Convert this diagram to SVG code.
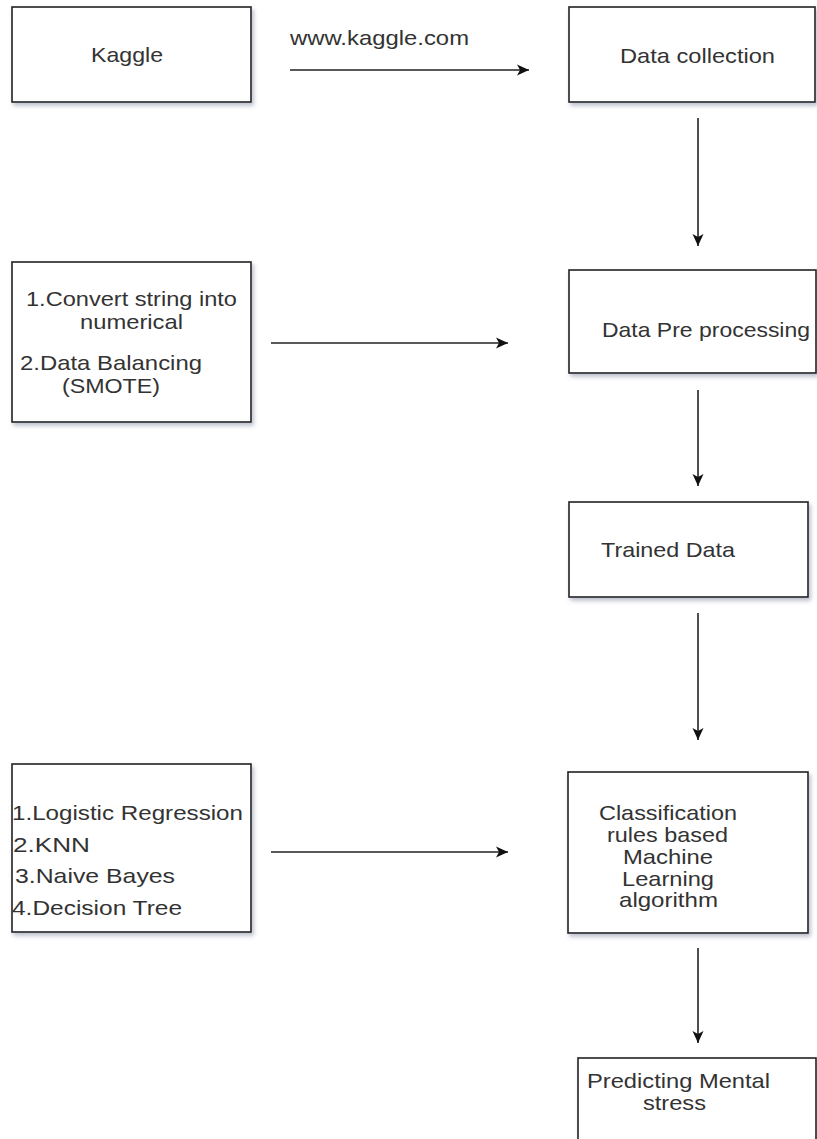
<svg xmlns="http://www.w3.org/2000/svg" width="817" height="1139" viewBox="0 0 817 1139">
<style>
.box{fill:#fff;stroke:#222;stroke-width:1.6;filter:url(#sh)}
.t{font-family:"Liberation Sans",Arial,sans-serif;font-size:21px;fill:#333}
.c{stroke:#222;stroke-width:1.6;fill:none;marker-end:url(#ah)}
</style>
<defs>
<filter id="sh" x="-10%" y="-10%" width="125%" height="130%">
<feDropShadow dx="2" dy="3" stdDeviation="2" flood-color="#6a7490" flood-opacity="0.45"/>
</filter>
<marker id="ah" markerUnits="userSpaceOnUse" markerWidth="12" markerHeight="12" refX="12" refY="6" orient="auto">
<path d="M0,0.5 L12,6 L0,11.5 L3,6 z" fill="#111"/>
</marker>
</defs>
<g id="connectors">
<line class="c" x1="290" y1="70" x2="529" y2="70"/>
<line class="c" x1="698" y1="118" x2="698" y2="246"/>
<line class="c" x1="271" y1="343" x2="508" y2="343"/>
<line class="c" x1="698" y1="390" x2="698" y2="486"/>
<line class="c" x1="698" y1="613" x2="698" y2="740"/>
<line class="c" x1="271" y1="852" x2="508" y2="852"/>
<line class="c" x1="698" y1="948" x2="698" y2="1043"/>
<text class="t" x="290" y="45" textLength="179" lengthAdjust="spacingAndGlyphs">www.kaggle.com</text>
</g>
<g id="kaggle">
<rect class="box" x="12" y="7" width="239" height="95"/>
<text class="t" x="91" y="62" textLength="72" lengthAdjust="spacingAndGlyphs">Kaggle</text>
</g>
<g id="data-collection">
<rect class="box" x="569" y="7" width="246" height="95"/>
<text class="t" x="620" y="63" textLength="155" lengthAdjust="spacingAndGlyphs">Data collection</text>
</g>
<g id="preprocessing-steps">
<rect class="box" x="12" y="262" width="239" height="160"/>
<text class="t" x="26" y="306" textLength="211" lengthAdjust="spacingAndGlyphs">1.Convert string into</text>
<text class="t" x="80" y="329" textLength="103" lengthAdjust="spacingAndGlyphs">numerical</text>
<text class="t" x="20" y="370" textLength="182" lengthAdjust="spacingAndGlyphs">2.Data Balancing</text>
<text class="t" x="62" y="393" textLength="98" lengthAdjust="spacingAndGlyphs">(SMOTE)</text>
</g>
<g id="data-preprocessing">
<rect class="box" x="569" y="270" width="247" height="103"/>
<text class="t" x="602" y="337" textLength="208" lengthAdjust="spacingAndGlyphs">Data Pre processing</text>
</g>
<g id="trained-data">
<rect class="box" x="569" y="502" width="239" height="95"/>
<text class="t" x="601" y="557" textLength="134" lengthAdjust="spacingAndGlyphs">Trained Data</text>
</g>
<g id="algorithms">
<rect class="box" x="12" y="764" width="239" height="168"/>
<text class="t" x="12" y="820" textLength="231" lengthAdjust="spacingAndGlyphs">1.Logistic Regression</text>
<text class="t" x="13" y="852" textLength="77" lengthAdjust="spacingAndGlyphs">2.KNN</text>
<text class="t" x="15" y="883" textLength="160" lengthAdjust="spacingAndGlyphs">3.Naive Bayes</text>
<text class="t" x="12" y="915" textLength="170" lengthAdjust="spacingAndGlyphs">4.Decision Tree</text>
</g>
<g id="classification">
<rect class="box" x="568" y="772" width="240" height="161"/>
<text class="t" x="599" y="820" textLength="138" lengthAdjust="spacingAndGlyphs">Classification</text>
<text class="t" x="607" y="842" textLength="121" lengthAdjust="spacingAndGlyphs">rules based</text>
<text class="t" x="623" y="864" textLength="90" lengthAdjust="spacingAndGlyphs">Machine</text>
<text class="t" x="622" y="886" textLength="92" lengthAdjust="spacingAndGlyphs">Learning</text>
<text class="t" x="619" y="907" textLength="99" lengthAdjust="spacingAndGlyphs">algorithm</text>
</g>
<g id="predicting">
<rect class="box" x="578" y="1058" width="238" height="90"/>
<text class="t" x="587" y="1088" textLength="183" lengthAdjust="spacingAndGlyphs">Predicting Mental</text>
<text class="t" x="643" y="1110" textLength="63" lengthAdjust="spacingAndGlyphs">stress</text>
</g>
</svg>
